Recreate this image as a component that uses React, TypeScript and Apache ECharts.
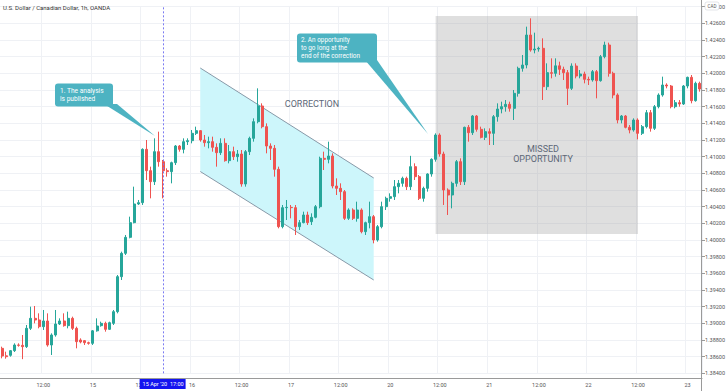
import React, { useEffect, useRef } from "react";
import * as echarts from "echarts";

const title = "U.S. Dollar / Canadian Dollar, 1h, OANDA";

// trading sessions: [day, first hour, last hour]
const sessions: [string, number, number][] = [
  ["14", 2, 23], ["15", 0, 23], ["16", 0, 23], ["17", 0, 20],
  ["19", 21, 23], ["20", 0, 23], ["21", 0, 23], ["22", 0, 23], ["23", 0, 3],
];

const opens = [
  1.387, 1.3861, 1.38616, 1.38672, 1.3874, 1.38736, 1.3872, 1.3894, 1.3906, 1.3904,
  1.3896, 1.39028, 1.3874, 1.3886, 1.38992, 1.39028, 1.38972, 1.3906, 1.3894, 1.388,
  1.38792, 1.38768, 1.3876, 1.3891, 1.38972, 1.39, 1.38928, 1.39, 1.3914, 1.3956,
  1.3984, 1.40032, 1.40208, 1.40432, 1.40448, 1.41088, 1.40832, 1.407, 1.4106, 1.4094,
  1.40832, 1.4082, 1.40928, 1.41128, 1.41088, 1.4118, 1.41192, 1.4128, 1.41312, 1.412,
  1.41168, 1.4118, 1.41112, 1.41048, 1.4116, 1.40952, 1.4106, 1.41, 1.41032, 1.40672,
  1.4106, 1.4122, 1.4142, 1.41608, 1.4136, 1.41128, 1.411, 1.40848, 1.4016, 1.40388,
  1.40392, 1.40388, 1.4016, 1.40208, 1.403, 1.4022, 1.40272, 1.404, 1.4098, 1.40968,
  1.41008, 1.40648, 1.4062, 1.4058, 1.4026, 1.4036, 1.4026, 1.4036, 1.401, 1.40208,
  1.4028, 1.4, 1.4016, 1.404, 1.405, 1.4052, 1.4064, 1.4068, 1.4074, 1.4064,
  1.4088, 1.4076, 1.405, 1.4062, 1.40792, 1.40968, 1.4126, 1.41032, 1.406, 1.4054,
  1.4068, 1.4094, 1.407, 1.41352, 1.41288, 1.41488, 1.41328, 1.41232, 1.413, 1.4128,
  1.4148, 1.41572, 1.416, 1.41628, 1.4158, 1.4176, 1.4206, 1.421, 1.4246, 1.4228,
  1.42292, 1.423, 1.4184, 1.42008, 1.42, 1.4209, 1.42048, 1.42008, 1.4182, 1.42088,
  1.41968, 1.41992, 1.41928, 1.4192, 1.4202, 1.41912, 1.422, 1.4234, 1.42, 1.4174,
  1.4144, 1.41488, 1.41352, 1.4132, 1.4144, 1.4128, 1.4136, 1.41528, 1.4134, 1.416,
  1.4174, 1.4186, 1.41848, 1.416, 1.41648, 1.41632, 1.41848, 1.41952, 1.41672, 1.4188,
];
const highs = [
  1.3872, 1.3866, 1.3868, 1.3876, 1.3876, 1.3886, 1.3898, 1.392, 1.39208, 1.3912,
  1.3916, 1.3912, 1.3888, 1.3916, 1.3906, 1.3912, 1.3914, 1.3908, 1.3896, 1.3882,
  1.388, 1.3878, 1.3892, 1.3906, 1.3902, 1.3902, 1.3902, 1.3916, 1.3958, 1.3986,
  1.4006, 1.4028, 1.4064, 1.4048, 1.411, 1.412, 1.4088, 1.4122, 1.413, 1.4096,
  1.4086, 1.4094, 1.4114, 1.4114, 1.4122, 1.4122, 1.4132, 1.4136, 1.4132, 1.4126,
  1.4124, 1.4124, 1.4116, 1.4122, 1.4122, 1.4114, 1.4112, 1.4108, 1.4108, 1.4108,
  1.4124, 1.4146, 1.4182, 1.4164, 1.414, 1.4116, 1.4114, 1.4088, 1.4042, 1.4048,
  1.4042, 1.4042, 1.4024, 1.4034, 1.4034, 1.4032, 1.4042, 1.41, 1.4106, 1.4118,
  1.4104, 1.4074, 1.4068, 1.406, 1.4038, 1.4038, 1.4046, 1.4038, 1.4022, 1.4046,
  1.403, 1.4018, 1.4046, 1.4052, 1.4056, 1.4072, 1.4072, 1.4076, 1.4076, 1.4101,
  1.4092, 1.4078, 1.4064, 1.408, 1.4098, 1.4128, 1.4128, 1.4106, 1.4062, 1.407,
  1.4096, 1.4098, 1.4136, 1.4138, 1.415, 1.415, 1.4136, 1.4134, 1.4134, 1.415,
  1.4164, 1.4166, 1.4168, 1.4166, 1.418, 1.4208, 1.4222, 1.4256, 1.4266, 1.42488,
  1.4232, 1.4242, 1.4212, 1.4218, 1.4218, 1.4214, 1.4208, 1.4204, 1.4212, 1.4212,
  1.4204, 1.4202, 1.4196, 1.4204, 1.4204, 1.4222, 1.4238, 1.42368, 1.4202, 1.4176,
  1.415, 1.415, 1.4138, 1.4146, 1.4146, 1.4138, 1.4156, 1.4156, 1.4162, 1.4176,
  1.4196, 1.4188, 1.4186, 1.4168, 1.4168, 1.4186, 1.4196, 1.4198, 1.419, 1.419,
];
const lows = [
  1.3858, 1.38576, 1.386, 1.38656, 1.3872, 1.3857, 1.38704, 1.3892, 1.39, 1.3894,
  1.3892, 1.3872, 1.3862, 1.3884, 1.3898, 1.3896, 1.3894, 1.3892, 1.387, 1.3876,
  1.3874, 1.38744, 1.3874, 1.389, 1.3896, 1.389, 1.3892, 1.3898, 1.3912, 1.3952,
  1.3982, 1.4002, 1.402, 1.4042, 1.4042, 1.4072, 1.405, 1.4066, 1.4088, 1.405,
  1.4076, 1.4068, 1.409, 1.4106, 1.4104, 1.4114, 1.4116, 1.4126, 1.4118, 1.4112,
  1.411, 1.4106, 1.4088, 1.4102, 1.4094, 1.4092, 1.4096, 1.4094, 1.4064, 1.4064,
  1.4102, 1.4118, 1.414, 1.4134, 1.4104, 1.4096, 1.4076, 1.4014, 1.4014, 1.4024,
  1.4026, 1.4006, 1.4012, 1.402, 1.4018, 1.4018, 1.4026, 1.4038, 1.4084, 1.4092,
  1.4062, 1.4054, 1.4048, 1.4024, 1.4024, 1.4024, 1.4022, 1.4008, 1.4006, 1.4014,
  1.3996, 1.3998, 1.4014, 1.4036, 1.4046, 1.4048, 1.4056, 1.4064, 1.406, 1.406,
  1.4072, 1.4048, 1.4046, 1.4058, 1.4076, 1.4094, 1.41, 1.4042, 1.403, 1.4038,
  1.4064, 1.4066, 1.4066, 1.4118, 1.4126, 1.413, 1.4122, 1.412, 1.4114, 1.4114,
  1.4142, 1.4152, 1.4154, 1.4154, 1.4144, 1.4172, 1.4202, 1.4206, 1.4226, 1.4224,
  1.4226, 1.4168, 1.418, 1.4194, 1.4196, 1.4198, 1.4192, 1.4162, 1.418, 1.4194,
  1.4194, 1.4188, 1.4186, 1.419, 1.417, 1.419, 1.4218, 1.4196, 1.417, 1.414,
  1.414, 1.4134, 1.4128, 1.413, 1.41208, 1.4126, 1.4134, 1.413, 1.4132, 1.4158,
  1.4172, 1.4182, 1.4158, 1.4158, 1.416, 1.4162, 1.4182, 1.4164, 1.4166, 1.4178,
];
const closes = [
  1.38608, 1.386, 1.38672, 1.3874, 1.38736, 1.3872, 1.3894, 1.3906, 1.3904, 1.3896,
  1.39028, 1.3874, 1.3886, 1.38992, 1.39028, 1.38972, 1.3906, 1.3894, 1.3878, 1.38776,
  1.38768, 1.3876, 1.3891, 1.38968, 1.39, 1.38928, 1.39008, 1.3914, 1.3956, 1.3984,
  1.40032, 1.40208, 1.40432, 1.40448, 1.41088, 1.40832, 1.407, 1.4106, 1.4094, 1.40832,
  1.4082, 1.40928, 1.41128, 1.41088, 1.4118, 1.41192, 1.4128, 1.41312, 1.412, 1.41168,
  1.4118, 1.41112, 1.41048, 1.4116, 1.40952, 1.4106, 1.41, 1.41032, 1.40672, 1.4106,
  1.4122, 1.4142, 1.41608, 1.4136, 1.41128, 1.411, 1.40848, 1.4016, 1.40388, 1.40392,
  1.40388, 1.4016, 1.40208, 1.403, 1.40208, 1.40272, 1.404, 1.4098, 1.40968, 1.41008,
  1.40648, 1.4062, 1.4058, 1.4026, 1.4036, 1.4026, 1.4036, 1.401, 1.40208, 1.4028,
  1.4, 1.4016, 1.404, 1.405, 1.4052, 1.4064, 1.4068, 1.4074, 1.4064, 1.4088,
  1.4076, 1.405, 1.4062, 1.40792, 1.40968, 1.4126, 1.41032, 1.406, 1.4054, 1.4068,
  1.4094, 1.407, 1.41352, 1.41288, 1.41488, 1.41328, 1.41232, 1.413, 1.4128, 1.4148,
  1.41572, 1.416, 1.41628, 1.4158, 1.4176, 1.4206, 1.421, 1.4246, 1.4228, 1.42292,
  1.423, 1.4184, 1.42008, 1.42, 1.4209, 1.42048, 1.42008, 1.4182, 1.42088, 1.41968,
  1.41992, 1.41928, 1.4192, 1.4202, 1.41912, 1.422, 1.4234, 1.42, 1.4174, 1.4144,
  1.41488, 1.41352, 1.4132, 1.4144, 1.4128, 1.4136, 1.41528, 1.4134, 1.416, 1.4174,
  1.4186, 1.41848, 1.416, 1.41648, 1.41632, 1.41848, 1.41952, 1.41672, 1.4188, 1.41812,
];

const yMin = 1.384;
const yMax = 1.428;
const yStep = 0.002;

const publishBar = "15 17:00";
const publishLabel = "15 Apr '20  17:00";

// correction channel: [left bar, right bar], upper / lower line prices
const channelBars = ["16 02:00", "17 20:00"];
const channelUpper = [1.42064, 1.40744];
const channelLower = [1.40822, 1.3952];

// missed opportunity zone
const zoneBars = ["20 11:00", "22 12:00"];
const zonePrices = [1.42688, 1.40072];

const callout1 = ["1. The analysis", "is published"];
const callout2 = ["2. An opportunity", "to go long at the", "end of the correction"];

const UP = "#26a69a";
const DOWN = "#ef5350";
const CALLOUT = "#4db3c2";

export default function App() {
  const ref = useRef<HTMLDivElement>(null);

  useEffect(() => {
    if (!ref.current) return;
    const chart = echarts.init(ref.current, null, { renderer: "svg" });

    const categories: string[] = [];
    sessions.forEach(([day, h0, h1]) => {
      for (let h = h0; h <= h1; h++) categories.push(`${day} ${String(h).padStart(2, "0")}:00`);
    });
    const hourOf = (v: string) => parseInt(v.split(" ")[1], 10);
    const isMark = (_i: number, v: string) => {
      const h = hourOf(v);
      return h === 0 || h === 12;
    };
    const fmtX = (v: string) => (hourOf(v) === 0 ? v.split(" ")[0] : "12:00");
    const idx = (name: string) => categories.indexOf(name);

    const candles = opens.map((o, i) => [o, closes[i], lows[i], highs[i]]);
    const lastClose = closes[closes.length - 1];

    const cx0 = idx(channelBars[0]);
    const cx1 = idx(channelBars[1]);
    const zx0 = idx(zoneBars[0]);
    const zx1 = idx(zoneBars[1]);
    const pubIdx = idx(publishBar);

    const font = "Roboto, 'Noto Sans', sans-serif";
    const calloutFont = "Roboto, sans-serif";

    chart.setOption({
      animation: false,
      backgroundColor: "#ffffff",
      textStyle: { fontFamily: font },
      grid: { left: 0, right: 26, top: 6.67, bottom: 17.67, containLabel: false },
      xAxis: {
        type: "category",
        data: categories,
        boundaryGap: true,
        offset: 5,
        axisLine: { lineStyle: { color: "#9a9a9a", width: 1 } },
        axisTick: { show: false },
        axisLabel: {
          interval: isMark,
          formatter: fmtX,
          fontSize: 5.5,
          color: "#555",
          margin: 4,
        },
        splitLine: { show: true, interval: isMark, lineStyle: { color: "#eff1f5", width: 1 } },
      },
      yAxis: {
        type: "value",
        position: "right",
        min: yMin,
        max: yMax,
        interval: yStep,
        axisLine: { show: false },
        axisTick: { show: true, length: 3, lineStyle: { color: "#9a9a9a" } },
        axisLabel: {
          fontSize: 5.5,
          color: "#555",
          margin: 3,
          formatter: (v: number) => v.toFixed(5),
        },
        splitLine: { show: true, lineStyle: { color: "#eff1f5", width: 1 } },
      },
      series: [
        {
          type: "custom",
          z: 1,
          silent: true,
          clip: false,
          data: [[zx0, zonePrices[0]]],
          renderItem: (_p: any, api: any) => {
            const a = api.coord([zx0, zonePrices[0]]);
            const b = api.coord([zx1, zonePrices[1]]);
            return {
              type: "rect",
              shape: { x: a[0], y: a[1], width: b[0] - a[0], height: b[1] - a[1] },
              style: { fill: "rgba(150,150,150,0.3)" },
            };
          },
        },
        {
          type: "custom",
          z: 1,
          silent: true,
          clip: false,
          data: [[cx0, channelUpper[0]]],
          renderItem: (_p: any, api: any) => {
            const a = api.coord([cx0, channelUpper[0]]);
            const b = api.coord([cx1, channelUpper[1]]);
            const c = api.coord([cx1, channelLower[1]]);
            const d = api.coord([cx0, channelLower[0]]);
            return {
              type: "group",
              children: [
                { type: "polygon", shape: { points: [a, b, c, d] }, style: { fill: "#cdf6fb" } },
                {
                  type: "line",
                  shape: { x1: a[0], y1: a[1], x2: b[0], y2: b[1] },
                  style: { stroke: "#8899a8", lineWidth: 1 },
                },
                {
                  type: "line",
                  shape: { x1: d[0], y1: d[1], x2: c[0], y2: c[1] },
                  style: { stroke: "#8899a8", lineWidth: 1 },
                },
              ],
            };
          },
        },
        {
          type: "candlestick",
          z: 3,
          data: candles,
          barWidth: 2.5,
          itemStyle: {
            color: UP,
            color0: DOWN,
            borderColor: UP,
            borderColor0: DOWN,
            borderWidth: 1,
          },
          markLine: {
            silent: true,
            symbol: ["none", "none"],
            animation: false,
            data: [
              {
                xAxis: publishBar,
                lineStyle: { type: [2, 2], color: "#7b7bf2", width: 1 },
                label: { show: false },
              },
              {
                yAxis: lastClose,
                lineStyle: { opacity: 0 },
                label: {
                  show: true,
                  position: "end",
                  formatter: lastClose.toFixed(5),
                  backgroundColor: DOWN,
                  color: "#ffffff",
                  fontSize: 5.5,
                  padding: [2, 4],
                  distance: 0,
                },
              },
            ],
          },
        },
        {
          // time tag on the axis under the publication line
          type: "custom",
          z: 20,
          silent: true,
          clip: false,
          data: [[pubIdx, yMin]],
          renderItem: (_p: any, api: any) => {
            const p = api.coord([pubIdx, yMin]);
            return {
              type: "group",
              children: [
                {
                  type: "rect",
                  shape: { x: p[0] - 23.5, y: p[1] + 5.7, width: 46, height: 10 },
                  style: { fill: "#1414f0" },
                },
                {
                  type: "text",
                  style: {
                    x: p[0],
                    y: p[1] + 10.9,
                    text: publishLabel,
                    fontSize: 5.5,
                    fill: "#ffffff",
                    align: "center",
                    verticalAlign: "middle",
                    fontFamily: font,
                  },
                },
              ],
            };
          },
        },
      ],
      graphic: [
        {
          type: "line",
          z: 50,
          shape: { x1: 701.5, y1: 0, x2: 701.5, y2: 391 },
          style: { stroke: "#9a9a9a", lineWidth: 1 },
        },
        {
          type: "text",
          z: 100,
          x: 3,
          y: 4,
          style: { text: title, fontSize: 6, fill: "#333", fontFamily: font },
        },
        {
          type: "group",
          z: 100,
          children: [
            {
              type: "rect",
              z: 100,
              shape: { x: 705, y: 2, width: 14, height: 8, r: 2 },
              style: { fill: "#ffffff", stroke: "#d0d3da", lineWidth: 0.6 },
            },
            {
              type: "text",
              z: 101,
              x: 712,
              y: 6,
              style: { text: "CAD", fontSize: 4.5, fill: "#555", align: "center", verticalAlign: "middle", fontFamily: font },
            },
          ],
        },
        {
          type: "text",
          z: 100,
          x: 312,
          y: 104,
          style: {
            text: "CORRECTION",
            fontSize: 9,
            fill: "#5d6878",
            align: "center",
            verticalAlign: "middle",
            fontFamily: font,
          },
        },
        {
          type: "text",
          z: 100,
          x: 543,
          y: 154,
          style: {
            text: "MISSED\nOPPORTUNITY",
            fontSize: 9,
            lineHeight: 10,
            fill: "#5d6878",
            align: "center",
            verticalAlign: "middle",
            fontFamily: font,
          },
        },
        {
          type: "group",
          z: 100,
          children: [
            {
              type: "polygon",
              z: 100,
              shape: { points: [[104, 104], [117, 104], [155, 136]] },
              style: { fill: CALLOUT },
            },
            {
              type: "rect",
              z: 100,
              shape: { x: 55, y: 83.5, width: 58, height: 23, r: 3 },
              style: { fill: CALLOUT },
            },
            {
              type: "text",
              z: 101,
              x: 60,
              y: 87.5,
              style: {
                text: callout1.join("\n"),
                fontSize: 6.6,
                lineHeight: 7.6,
                fill: "#ffffff",
                fontFamily: calloutFont,
              },
            },
          ],
        },
        {
          type: "group",
          z: 100,
          children: [
            {
              type: "polygon",
              z: 100,
              shape: { points: [[365, 60], [377, 60], [428, 134]] },
              style: { fill: CALLOUT },
            },
            {
              type: "rect",
              z: 100,
              shape: { x: 297, y: 33.5, width: 80, height: 29, r: 3 },
              style: { fill: CALLOUT },
            },
            {
              type: "text",
              z: 101,
              x: 301,
              y: 36.5,
              style: {
                text: callout2.join("\n"),
                fontSize: 6.4,
                lineHeight: 7.6,
                fill: "#ffffff",
                fontFamily: calloutFont,
              },
            },
          ],
        },
      ],
    });

    return () => chart.dispose();
  }, []);

  return (
    <div
      ref={ref}
      style={{ position: "absolute", left: 0, top: 0, width: 728, height: 391 }}
    />
  );
}
